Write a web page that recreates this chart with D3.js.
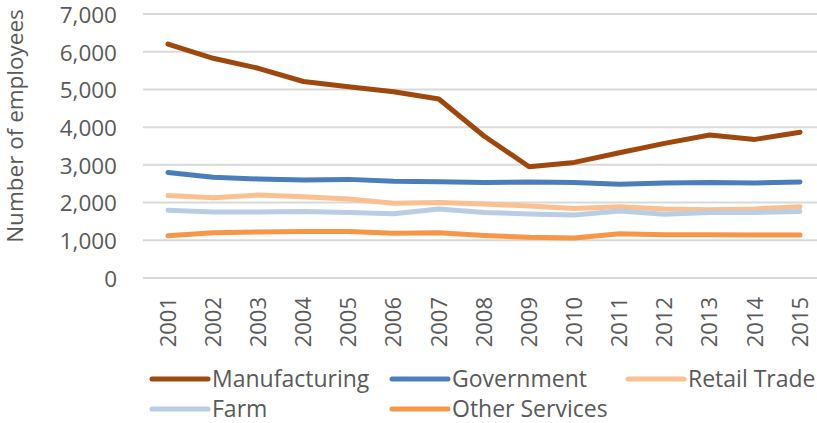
<!DOCTYPE html>
<html>
<head>
<meta charset="utf-8">
<script src="https://cdn.jsdelivr.net/npm/d3@7"></script>
<style>
  html, body { margin: 0; padding: 0; background: #fff; }
  svg { display: block; }
  text { font-family: "Open Sans", "Noto Sans", sans-serif; fill: #595959; }
</style>
</head>
<body>
<svg id="chart" width="817" height="423"></svg>
<script>
// Employment by industry, 2001–2015
const years = ["2001","2002","2003","2004","2005","2006","2007","2008","2009","2010","2011","2012","2013","2014","2015"];
const manufacturing = [6200, 5825, 5560, 5210, 5070, 4940, 4745, 3765, 2950, 3065, 3320, 3570, 3790, 3675, 3865];
const government    = [2795, 2670, 2625, 2600, 2615, 2565, 2555, 2530, 2545, 2530, 2485, 2520, 2535, 2520, 2545];
const retailTrade   = [2185, 2130, 2200, 2155, 2095, 1980, 2005, 1960, 1910, 1840, 1890, 1830, 1810, 1830, 1890];
const farm          = [1795, 1750, 1750, 1760, 1740, 1705, 1830, 1735, 1700, 1670, 1775, 1690, 1735, 1740, 1765];
const otherServices = [1120, 1200, 1220, 1235, 1235, 1185, 1200, 1130, 1080, 1060, 1175, 1150, 1150, 1140, 1140];
const yTicks = [0, 1000, 2000, 3000, 4000, 5000, 6000, 7000];
const yTitle = "Number of employees";

const series = [
  { name: "Manufacturing",  values: manufacturing, color: "#9E480E" },
  { name: "Government",     values: government,    color: "#4A7EBB" },
  { name: "Retail Trade",   values: retailTrade,   color: "#FAC090" },
  { name: "Farm",           values: farm,          color: "#B9CDE5" },
  { name: "Other Services", values: otherServices, color: "#F79646" }
];

const svg = d3.select("#chart");

const x = d3.scalePoint().domain(years).range([168, 800]);
const y = d3.scaleLinear().domain([0, 7000]).range([278, 14]);

// Horizontal gridlines
svg.append("g")
  .selectAll("line")
  .data(yTicks)
  .join("line")
  .attr("x1", 143).attr("x2", 817)
  .attr("y1", d => y(d)).attr("y2", d => y(d))
  .attr("stroke", "#d9d9d9")
  .attr("stroke-width", 2);

// Y axis tick labels
const yAxis = d3.axisLeft(y)
  .tickValues(yTicks)
  .tickFormat(d3.format(","))
  .tickSize(0)
  .tickPadding(0);
const yG = svg.append("g").attr("transform", "translate(117,0)").call(yAxis);
yG.select(".domain").remove();
yG.selectAll("text")
  .attr("font-family", null)
  .style("font-size", "22.5px")
  .attr("dy", "0.37em");

// Y axis title
svg.append("text")
  .attr("transform", "translate(23,126) rotate(-90)")
  .attr("text-anchor", "middle")
  .style("font-size", "22.5px")
  .text(yTitle);

// X axis year labels (rotated)
const xAxis = d3.axisBottom(x).tickSize(0).tickPadding(0);
const xG = svg.append("g").attr("transform", "translate(0,297)").call(xAxis);
xG.select(".domain").remove();
xG.selectAll("text")
  .attr("font-family", null)
  .style("font-size", "22px")
  .attr("text-anchor", "end")
  .attr("transform", "rotate(-90)")
  .attr("x", 0)
  .attr("y", 0)
  .attr("dy", "0.33em");

// Series lines
const line = d3.line()
  .x((d, i) => x(years[i]))
  .y(d => y(d));

svg.append("g")
  .selectAll("path")
  .data(series)
  .join("path")
  .attr("d", d => line(d.values))
  .attr("fill", "none")
  .attr("stroke", d => d.color)
  .attr("stroke-width", 5)
  .attr("stroke-linecap", "round")
  .attr("stroke-linejoin", "round");

// Legend
const legendCols = [152, 392, 628];
const legendRows = [379, 409];
const legend = svg.append("g")
  .selectAll("g")
  .data(series)
  .join("g")
  .attr("transform", (d, i) => `translate(${legendCols[i % 3]},${legendRows[Math.floor(i / 3)]})`);

legend.append("line")
  .attr("x1", 0).attr("x2", 56)
  .attr("y1", 0).attr("y2", 0)
  .attr("stroke", d => d.color)
  .attr("stroke-width", 5)
  .attr("stroke-linecap", "round");

legend.append("text")
  .attr("x", 60)
  .attr("dy", "0.36em")
  .style("font-size", "23px")
  .text(d => d.name);
</script>
</body>
</html>
